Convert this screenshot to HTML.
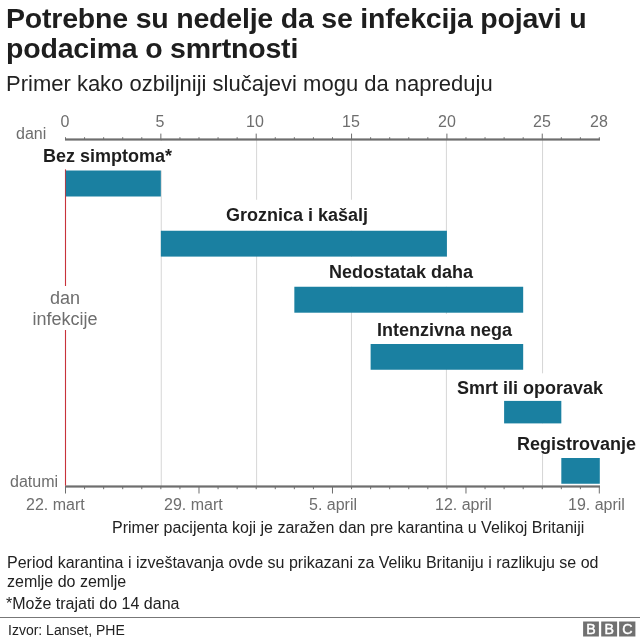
<!DOCTYPE html>
<html>
<head>
<meta charset="utf-8">
<style>
html,body{margin:0;padding:0;background:#fff;}
body{width:640px;height:640px;position:relative;overflow:hidden;font-family:"Liberation Sans",sans-serif;color:#1e1e1e;}
.t{position:absolute;white-space:nowrap;line-height:1;will-change:transform;}
.title{font-weight:bold;font-size:28.5px;color:#1e1e1e;left:6px;letter-spacing:-0.2px;}
.sub{font-size:22px;color:#222;left:5.5px;}
.ax{font-size:16px;color:#6e6e6e;}
.tc{transform:translateX(-50%);}
.lab{font-weight:bold;font-size:18px;color:#1e1e1e;}
.note{font-size:16px;color:#222;}
svg{position:absolute;left:0;top:0;}
</style>
</head>
<body>
<div class="t title" style="top:4px;">Potrebne su nedelje da se infekcija pojavi u</div>
<div class="t title" style="top:33.6px;">podacima o smrtnosti</div>
<div class="t sub" style="top:72.6px;">Primer kako ozbiljniji slučajevi mogu da napreduju</div>

<svg width="640" height="640" viewBox="0 0 640 640">
  <g fill="#d6d6d6"><rect x="160.75" y="140" width="1" height="346"/><rect x="256.10" y="140" width="1" height="346"/><rect x="350.95" y="140" width="1" height="346"/><rect x="445.90" y="140" width="1" height="346"/><rect x="542.05" y="140" width="1" height="346"/></g>
  <g fill="#6e6e6e">
    <rect x="65" y="138.4" width="535" height="2.2"/>
    <rect x="65" y="485.4" width="535" height="2.2"/>
    <rect x="65.00" y="137.2" width="1" height="2.30"/><rect x="65.00" y="486.5" width="1" height="7.00"/><rect x="84.07" y="137.2" width="1" height="2.30"/><rect x="84.07" y="486.5" width="1" height="2.70"/><rect x="103.14" y="137.2" width="1" height="2.30"/><rect x="103.14" y="486.5" width="1" height="2.70"/><rect x="122.21" y="137.2" width="1" height="2.30"/><rect x="122.21" y="486.5" width="1" height="2.70"/><rect x="141.28" y="137.2" width="1" height="2.30"/><rect x="141.28" y="486.5" width="1" height="2.70"/><rect x="160.35" y="133.6" width="1" height="5.90"/><rect x="160.35" y="486.5" width="1" height="2.70"/><rect x="179.42" y="137.2" width="1" height="2.30"/><rect x="179.42" y="486.5" width="1" height="2.70"/><rect x="198.49" y="137.2" width="1" height="2.30"/><rect x="198.49" y="486.5" width="1" height="7.00"/><rect x="217.56" y="137.2" width="1" height="2.30"/><rect x="217.56" y="486.5" width="1" height="2.70"/><rect x="236.63" y="137.2" width="1" height="2.30"/><rect x="236.63" y="486.5" width="1" height="2.70"/><rect x="255.70" y="133.6" width="1" height="5.90"/><rect x="255.70" y="486.5" width="1" height="2.70"/><rect x="274.77" y="137.2" width="1" height="2.30"/><rect x="274.77" y="486.5" width="1" height="2.70"/><rect x="293.84" y="137.2" width="1" height="2.30"/><rect x="293.84" y="486.5" width="1" height="2.70"/><rect x="312.91" y="137.2" width="1" height="2.30"/><rect x="312.91" y="486.5" width="1" height="2.70"/><rect x="331.98" y="137.2" width="1" height="2.30"/><rect x="331.98" y="486.5" width="1" height="7.00"/><rect x="351.05" y="133.6" width="1" height="5.90"/><rect x="351.05" y="486.5" width="1" height="2.70"/><rect x="370.12" y="137.2" width="1" height="2.30"/><rect x="370.12" y="486.5" width="1" height="2.70"/><rect x="389.19" y="137.2" width="1" height="2.30"/><rect x="389.19" y="486.5" width="1" height="2.70"/><rect x="408.26" y="137.2" width="1" height="2.30"/><rect x="408.26" y="486.5" width="1" height="2.70"/><rect x="427.33" y="137.2" width="1" height="2.30"/><rect x="427.33" y="486.5" width="1" height="2.70"/><rect x="446.40" y="133.6" width="1" height="5.90"/><rect x="446.40" y="486.5" width="1" height="2.70"/><rect x="465.47" y="137.2" width="1" height="2.30"/><rect x="465.47" y="486.5" width="1" height="7.00"/><rect x="484.54" y="137.2" width="1" height="2.30"/><rect x="484.54" y="486.5" width="1" height="2.70"/><rect x="503.61" y="137.2" width="1" height="2.30"/><rect x="503.61" y="486.5" width="1" height="2.70"/><rect x="522.68" y="137.2" width="1" height="2.30"/><rect x="522.68" y="486.5" width="1" height="2.70"/><rect x="541.75" y="133.6" width="1" height="5.90"/><rect x="541.75" y="486.5" width="1" height="2.70"/><rect x="560.82" y="137.2" width="1" height="2.30"/><rect x="560.82" y="486.5" width="1" height="2.70"/><rect x="579.89" y="137.2" width="1" height="2.30"/><rect x="579.89" y="486.5" width="1" height="2.70"/><rect x="598.80" y="137.2" width="1" height="2.30"/><rect x="598.80" y="486.5" width="1" height="7.00"/>
  </g>
  <g fill="#fff"><rect x="42" y="141" width="131" height="29.5"/><rect x="224" y="199.75" width="144" height="31"/><rect x="328" y="256.6" width="146" height="30.2"/><rect x="375" y="314" width="139" height="30"/><rect x="455" y="373.3" width="150" height="28"/><rect x="516" y="423.4" width="122" height="30.35"/></g>
  <rect x="64.95" y="169.4" width="1.1" height="316.2" fill="#c8323a"/>
  <g fill="#1a80a1"><rect x="65.80" y="170.5" width="95.05" height="26.00"/><rect x="160.85" y="230.75" width="286.05" height="25.85"/><rect x="294.34" y="286.75" width="228.84" height="25.95"/><rect x="370.62" y="344" width="152.56" height="25.75"/><rect x="504.11" y="400.9" width="57.21" height="22.50"/><rect x="561.32" y="458" width="38.48" height="25.75"/></g>
</svg>

<div class="t ax" style="left:15.8px;top:125.5px;">dani</div>
<div class="t ax" style="left:10.4px;top:473.6px;">datumi</div>
<div class="t ax tc" style="left:65.3px;top:113.8px;">0</div><div class="t ax tc" style="left:160.1px;top:113.8px;">5</div><div class="t ax tc" style="left:255.2px;top:113.8px;">10</div><div class="t ax tc" style="left:350.8px;top:113.8px;">15</div><div class="t ax tc" style="left:447.2px;top:113.8px;">20</div><div class="t ax tc" style="left:541.6px;top:113.8px;">25</div><div class="t ax tc" style="left:599.0px;top:113.8px;">28</div>
<div class="t ax" style="left:26.4px;top:496.5px;">22. mart</div><div class="t ax" style="left:164.3px;top:496.5px;">29. mart</div><div class="t ax" style="left:308.8px;top:496.5px;">5. april</div><div class="t ax" style="left:435.0px;top:496.5px;">12. april</div><div class="t ax" style="left:567.7px;top:496.5px;">19. april</div>
<div class="t lab" style="left:42.9px;top:147px;">Bez simptoma*</div><div class="t lab" style="left:226.1px;top:206px;">Groznica i kašalj</div><div class="t lab" style="left:329.2px;top:263.4px;">Nedostatak daha</div><div class="t lab" style="left:376.8px;top:321px;">Intenzivna nega</div><div class="t lab" style="left:457.2px;top:379.4px;">Smrt ili oporavak</div><div class="t lab" style="left:517.2px;top:434.5px;">Registrovanje</div>
<div class="t ax" style="left:65.3px;top:285.5px;padding-top:2px;transform:translateX(-50%);text-align:center;line-height:21.1px;font-size:18px;background:#fff;">dan<br>infekcije</div>

<div class="t note" style="left:112.3px;top:520.2px;">Primer pacijenta koji je zaražen dan pre karantina u Velikoj Britaniji</div>
<div class="t note" style="left:7.4px;top:555px;">Period karantina i izveštavanja ovde su prikazani za Veliku Britaniju i razlikuju se od</div>
<div class="t note" style="left:7.2px;top:574.1px;">zemlje do zemlje</div>
<div class="t note" style="left:6px;top:596px;">*Može trajati do 14 dana</div>

<div style="position:absolute;left:0;top:616.5px;width:640px;height:1.5px;background:#777;"></div>
<div class="t" style="left:7.6px;top:622.8px;font-size:14px;color:#222;">Izvor: Lanset, PHE</div>

<svg width="640" height="640" viewBox="0 0 640 640">
  <g fill="#707070">
    <rect x="583.1" y="621.5" width="15.8" height="15"/>
    <rect x="601.2" y="621.5" width="15.9" height="15"/>
    <rect x="619.1" y="621.5" width="16.3" height="15"/>
  </g>
  <g fill="#fff" stroke="#fff" stroke-width="0.45" font-family="Liberation Sans, sans-serif" font-size="14.2" text-anchor="middle">
    <text x="591.1" y="634.3">B</text>
    <text x="609.2" y="634.3">B</text>
    <text x="627.4" y="634.3">C</text>
  </g>
</svg>
</body>
</html>
